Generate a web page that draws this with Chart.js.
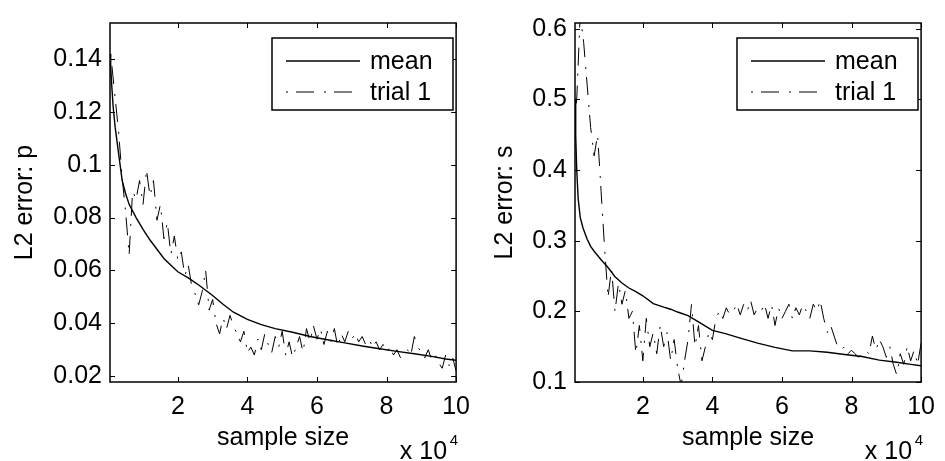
<!DOCTYPE html>
<html>
<head>
<meta charset="utf-8">
<script src="https://cdn.jsdelivr.net/npm/chart.js@4.4.0/dist/chart.umd.min.js"></script>
<style>
  body { margin: 0; background: #fff; }
  #left { position: absolute; left: 0; top: 0; }
  #right { position: absolute; left: 480px; top: 0; }
</style>
</head>
<body>
<canvas id="left" width="480" height="461"></canvas>
<canvas id="right" width="465" height="461"></canvas>
<script>
// sample size (x 10^4)
const meanX = [0.05, 0.07, 0.1, 0.14, 0.2, 0.28, 0.4, 0.5, 0.6, 0.8, 1.0, 1.2, 1.4, 1.6, 1.8, 2.0, 2.3, 2.6, 2.8, 3.0,
  3.3, 3.6, 4.0, 4.4, 4.8, 5.3, 5.8, 6.3, 6.8, 7.3, 7.8, 8.3, 8.8, 9.3, 9.7, 10]
const meanP = [0.142, 0.137, 0.130, 0.122, 0.114, 0.106, 0.094, 0.089, 0.085, 0.080, 0.0755, 0.0715, 0.068, 0.0645, 0.062, 0.0595, 0.0572, 0.0545, 0.0525, 0.0505,
  0.0472, 0.0442, 0.0415, 0.0395, 0.038, 0.0366, 0.035, 0.0338, 0.0326, 0.0314, 0.0304, 0.0294, 0.0285, 0.0275, 0.0265, 0.026]
const meanS = [0.50, 0.45, 0.40, 0.36, 0.333, 0.318, 0.302, 0.292, 0.285, 0.273, 0.262, 0.249, 0.240, 0.233, 0.228, 0.222, 0.211, 0.206, 0.203, 0.199,
  0.194, 0.185, 0.173, 0.168, 0.162, 0.155, 0.149, 0.144, 0.144, 0.142, 0.139, 0.136, 0.131, 0.128, 0.125, 0.123]

const trialX = [0.05,
  0.1, 0.2, 0.3, 0.4, 0.5, 0.6, 0.7, 0.8, 0.9, 1.0,
  1.1, 1.2, 1.3, 1.4, 1.5, 1.6, 1.7, 1.8, 1.9, 2.0,
  2.1, 2.2, 2.3, 2.4, 2.5, 2.6, 2.7, 2.8, 2.9, 3.0,
  3.1, 3.2, 3.3, 3.4, 3.5, 3.6, 3.7, 3.8, 3.9, 4.0,
  4.1, 4.2, 4.3, 4.4, 4.5, 4.6, 4.7, 4.8, 4.9, 5.0,
  5.1, 5.2, 5.3, 5.4, 5.5, 5.6, 5.7, 5.8, 5.9, 6.0,
  6.1, 6.2, 6.3, 6.4, 6.5, 6.6, 6.7, 6.8, 6.9, 7.0,
  7.1, 7.2, 7.3, 7.4, 7.5, 7.6, 7.7, 7.8, 7.9, 8.0,
  8.1, 8.2, 8.3, 8.4, 8.5, 8.6, 8.7, 8.8, 8.9, 9.0,
  9.1, 9.2, 9.3, 9.4, 9.5, 9.6, 9.7, 9.8, 9.9, 10.0]
const trialP = [0.141,
  0.138, 0.125, 0.112, 0.095, 0.082, 0.066, 0.090, 0.087, 0.094, 0.085,
  0.098, 0.088, 0.094, 0.079, 0.085, 0.072, 0.078, 0.066, 0.073, 0.064,
  0.067, 0.058, 0.062, 0.054, 0.051, 0.047, 0.052, 0.060, 0.045, 0.049,
  0.040, 0.036, 0.042, 0.038, 0.043, 0.039, 0.036, 0.033, 0.037, 0.029,
  0.031, 0.028, 0.034, 0.030, 0.036, 0.032, 0.029, 0.035, 0.031, 0.037,
  0.028, 0.033, 0.027, 0.031, 0.035, 0.029, 0.038, 0.033, 0.039, 0.034,
  0.038, 0.032, 0.037, 0.033, 0.038, 0.031, 0.036, 0.033, 0.037, 0.034,
  0.036, 0.033, 0.035, 0.032, 0.034, 0.031, 0.033, 0.030, 0.032, 0.029,
  0.031, 0.028, 0.030, 0.027, 0.029, 0.030, 0.028, 0.035, 0.031, 0.029,
  0.027, 0.030, 0.026, 0.028, 0.025, 0.023, 0.028, 0.024, 0.027, 0.022]
const trialS = [0.48,
  0.50, 0.62, 0.58, 0.52, 0.46, 0.42, 0.45, 0.37, 0.29, 0.22,
  0.26, 0.20, 0.24, 0.21, 0.23, 0.19, 0.20, 0.14, 0.18, 0.13,
  0.19, 0.15, 0.17, 0.14, 0.18, 0.15, 0.17, 0.13, 0.16, 0.12,
  0.095, 0.13, 0.16, 0.21, 0.15, 0.18, 0.13, 0.15, 0.17, 0.16,
  0.19, 0.20, 0.19, 0.205, 0.195, 0.20, 0.21, 0.195, 0.21, 0.20,
  0.215, 0.195, 0.205, 0.20, 0.21, 0.19, 0.21, 0.18, 0.205, 0.19,
  0.20, 0.21, 0.19, 0.205, 0.195, 0.21, 0.20, 0.19, 0.21, 0.20,
  0.215, 0.19, 0.17, 0.18, 0.165, 0.15, 0.145, 0.15, 0.14, 0.145,
  0.14, 0.135, 0.14, 0.145, 0.14, 0.165, 0.145, 0.16, 0.15, 0.135,
  0.15, 0.125, 0.11, 0.14, 0.125, 0.15, 0.13, 0.145, 0.125, 0.155]

const xTicks = [2, 4, 6, 8, 10]
const pTicks = [0.02, 0.04, 0.06, 0.08, 0.1, 0.12, 0.14]
const sTicks = [0.1, 0.2, 0.3, 0.4, 0.5, 0.6]

const FONT = '"Liberation Sans", Arial, sans-serif'
Chart.defaults.font.family = FONT
Chart.defaults.color = '#000'

// matlab style box, inward ticks, legend box and the x 10^4 note
const matlabFrame = {
  id: 'matlabFrame',
  afterDraw(chart) {
    const {ctx, chartArea: a, scales: {x, y}} = chart
    ctx.save()
    ctx.strokeStyle = '#000'
    ctx.lineWidth = 1
    ctx.beginPath()
    x.ticks.forEach(t => {
      const px = Math.round(x.getPixelForValue(t.value)) + 0.5
      ctx.moveTo(px, a.bottom); ctx.lineTo(px, a.bottom - 5)
      ctx.moveTo(px, a.top); ctx.lineTo(px, a.top + 5)
    })
    y.ticks.forEach(t => {
      const py = Math.round(y.getPixelForValue(t.value)) + 0.5
      ctx.moveTo(a.left, py); ctx.lineTo(a.left + 5, py)
      ctx.moveTo(a.right, py); ctx.lineTo(a.right - 5, py)
    })
    ctx.stroke()
    ctx.lineWidth = 1.5
    ctx.strokeRect(a.left, a.top, a.right - a.left, a.bottom - a.top)

    // legend
    const bx = a.left + 162, by = a.top + 15, bw = 181, bh = 72
    ctx.fillStyle = '#fff'
    ctx.fillRect(bx, by, bw, bh)
    ctx.strokeRect(bx, by, bw, bh)
    ctx.font = '25px ' + FONT
    ctx.textBaseline = 'middle'
    chart.data.datasets.forEach((ds, i) => {
      const ly = by + 23 + i * 31
      ctx.beginPath()
      ctx.setLineDash(ds.borderDash || [])
      ctx.lineWidth = ds.borderWidth
      ctx.moveTo(bx + 14, ly); ctx.lineTo(bx + 88, ly)
      ctx.stroke()
      ctx.setLineDash([])
      ctx.fillStyle = '#000'
      ctx.fillText(ds.label, bx + 98, ly + 1)
    })

    ctx.textAlign = 'right'
    ctx.textBaseline = 'alphabetic'
    ctx.fillText('x 10', a.right - 9, 459)
    ctx.font = '15px ' + FONT
    ctx.fillText('4', a.right + 2, 445)
    ctx.restore()
  }
}

function makeChart(id, meanY, trialY, yMin, yMax, yTicks, yTitle, yWidth, padRight) {
  const font = {size: 25}
  return new Chart(document.getElementById(id), {
    type: 'line',
    data: {
      datasets: [{
        label: 'mean',
        data: meanX.map((v, i) => ({x: v, y: meanY[i]})),
        borderColor: '#000',
        borderWidth: 1.4,
        pointRadius: 0
      }, {
        label: 'trial 1',
        data: trialX.map((v, i) => ({x: v, y: trialY[i]})),
        borderColor: '#000',
        borderWidth: 1,
        borderDash: [2, 8, 18, 10],
        pointRadius: 0
      }]
    },
    options: {
      responsive: false,
      animation: false,
      layout: {padding: {top: 13, right: padRight, left: 0, bottom: 0}},
      plugins: {legend: {display: false}, tooltip: {enabled: false}},
      scales: {
        x: {
          type: 'linear', min: 0.05, max: 10,
          afterBuildTicks: s => { s.ticks = xTicks.map(v => ({value: v})) },
          afterFit: s => { s.height = 79 },
          grid: {display: false, drawTicks: false},
          border: {display: false},
          ticks: {font, padding: 10, maxRotation: 0, autoSkip: false},
          title: {display: true, text: 'sample size', font, padding: {top: 0, bottom: 8}}
        },
        y: {
          min: yMin, max: yMax,
          afterBuildTicks: s => { s.ticks = yTicks.map(v => ({value: v})) },
          afterFit: s => { s.width = yWidth },
          grid: {display: false, drawTicks: false},
          border: {display: false},
          ticks: {font, padding: 8, autoSkip: false, callback: v => String(v)},
          title: {display: true, text: yTitle, font, padding: {top: 10, bottom: 0}}
        }
      }
    },
    plugins: [matlabFrame]
  })
}

makeChart('left', meanP, trialP, 0.0178, 0.1536, pTicks, 'L2 error: p', 110, 18)
makeChart('right', meanS, trialS, 0.1, 0.608, sTicks, 'L2 error: s', 95, 17)
</script>
</body>
</html>
